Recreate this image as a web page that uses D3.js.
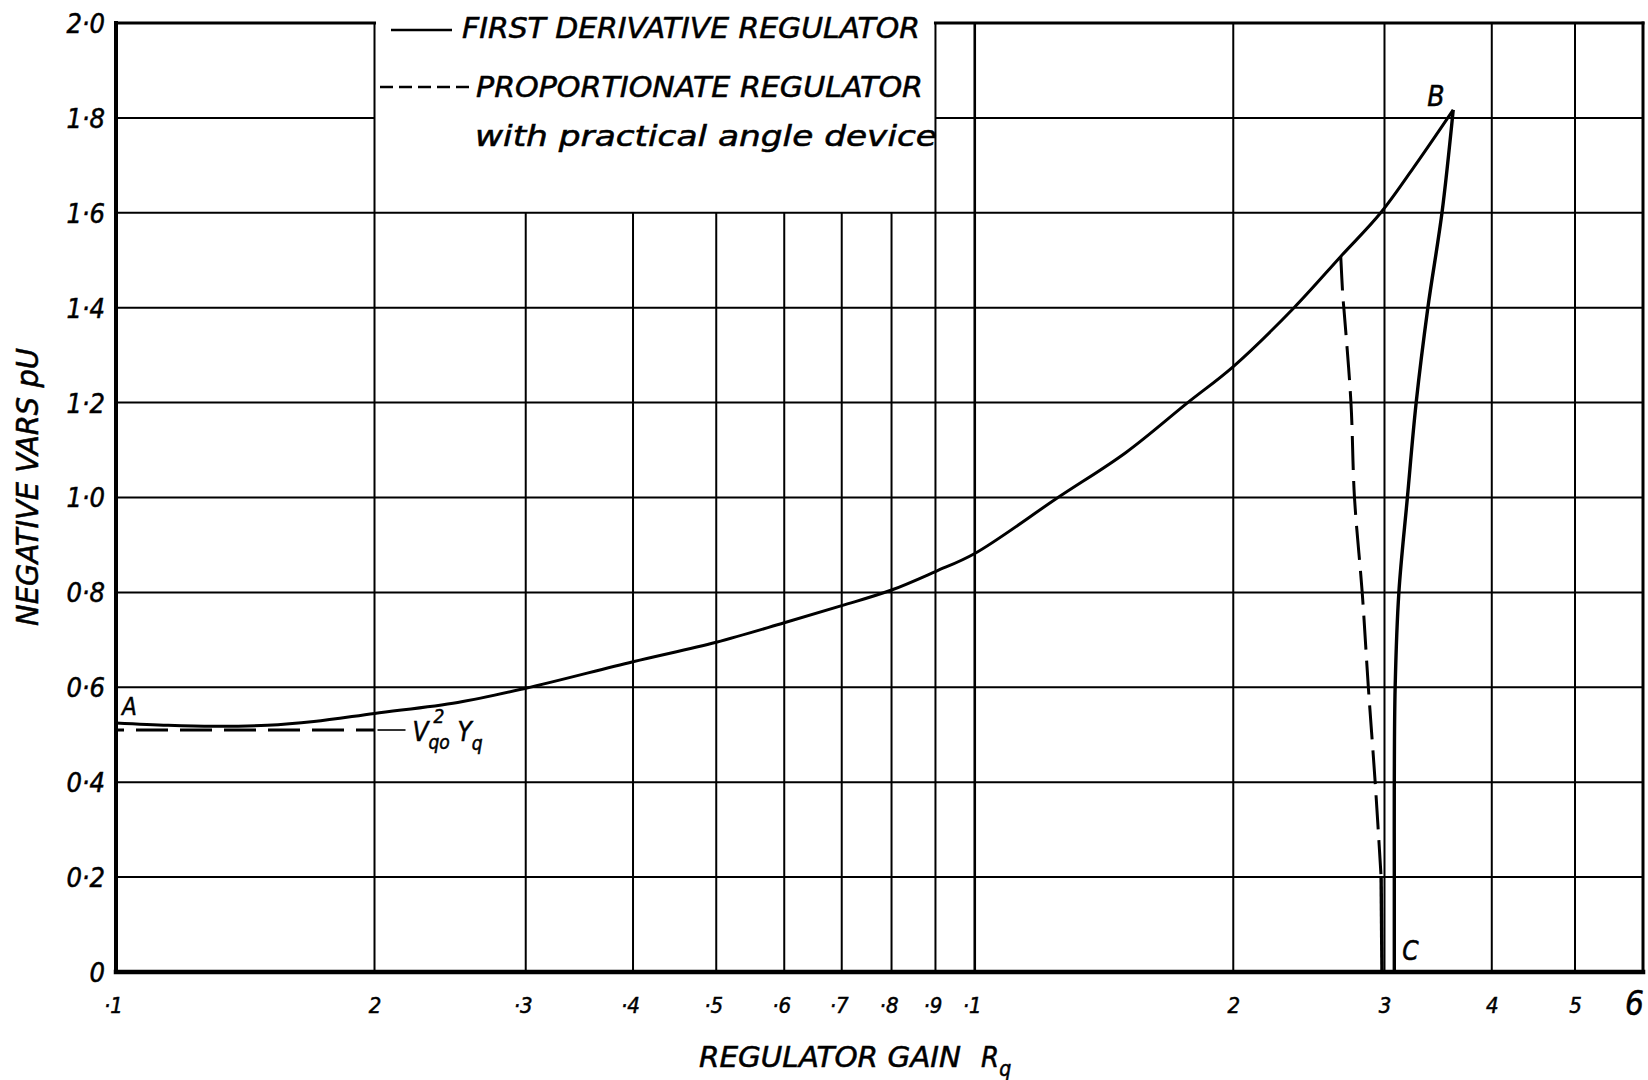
<!DOCTYPE html>
<html>
<head>
<meta charset="utf-8">
<script src="https://cdn.jsdelivr.net/npm/d3@7"></script>
<style>
  body { margin: 0; background: #fff; }
  text { font-family: 'DejaVu Sans Condensed', 'DejaVu Sans', sans-serif; font-style: italic; fill: #000; stroke: #000; stroke-width: 0.5; }
</style>
</head>
<body>
<div id="chart"></div>
<script>
'use strict';

// log paper ticks, labelled the way the sheet labels them
const xTicks = [0.1, 0.2, 0.3, 0.4, 0.5, 0.6, 0.7, 0.8, 0.9, 1, 2, 3, 4, 5, 6];
const xTickLabels = ['·1', '2', '·3', '·4', '·5', '·6', '·7', '·8', '·9', '·1', '2', '3', '4', '5', '6'];
const yTicks = [0, 0.2, 0.4, 0.6, 0.8, 1.0, 1.2, 1.4, 1.6, 1.8, 2.0];
const yTickLabels = ['0', '0·2', '0·4', '0·6', '0·8', '1·0', '1·2', '1·4', '1·6', '1·8', '2·0'];

// first derivative regulator, A -> B then B -> C
const firstDerivRise = [
  [0.1, 0.525], [0.115, 0.52], [0.13, 0.518], [0.15, 0.52], [0.17, 0.528], [0.2, 0.545],
  [0.25, 0.568], [0.3, 0.598], [0.4, 0.654], [0.5, 0.695], [0.6, 0.736], [0.7, 0.772],
  [0.8, 0.805], [0.9, 0.844], [1.0, 0.882], [1.25, 1.0], [1.5, 1.095], [1.77, 1.2],
  [2.0, 1.276], [2.354, 1.4], [2.668, 1.508], [2.97, 1.6], [3.28, 1.708], [3.607, 1.817]
];
const firstDerivFall = [
  [3.607, 1.817], [3.5, 1.6], [3.37, 1.4], [3.266, 1.2], [3.19, 1.0], [3.118, 0.8],
  [3.087, 0.6], [3.08, 0.4], [3.08, 0.2], [3.08, 0]
];

// proportionate regulator
const propFlat = [[0.1, 0.51], [0.2, 0.51]];
const propDrop = [
  [2.668, 1.508], [2.683, 1.424], [2.69, 1.4], [2.742, 1.2], [2.768, 1.0], [2.826, 0.8],
  [2.873, 0.6], [2.926, 0.4], [2.973, 0.2]
];
const propTail = [[2.973, 0.2], [2.98, 0]];

const legendLabels = ['FIRST DERIVATIVE REGULATOR', 'PROPORTIONATE REGULATOR', 'with practical angle device'];

const W = 1648, H = 1080;
const pad = {top: 23, right: 5, bottom: 108, left: 116};

const svg = d3.select('#chart').append('svg')
  .attr('width', W).attr('height', H)
  .style('background', '#fff');

const x = d3.scaleLog().domain([0.1, 6]).range([pad.left, W - pad.right]);
const y = d3.scaleLinear().domain([0, 2]).range([H - pad.bottom, pad.top]);

const grid = svg.append('g').attr('stroke', '#000').attr('fill', 'none');

// vertical rulings; the ones behind the legend stop at 1.6
xTicks.filter(v => v > 0.1 && v < 6).forEach(v => {
  const top = (v >= 0.3 && v <= 0.8) ? y(1.6) : y(2);
  grid.append('line')
    .attr('x1', x(v)).attr('x2', x(v))
    .attr('y1', y(0)).attr('y2', top)
    .attr('stroke-width', v === 1 ? 2.6 : 2);
});

// horizontal rulings; 1.8 is broken by the legend
yTicks.filter(v => v > 0 && v < 2).forEach(v => {
  const segs = v > 1.7 ? [[0.1, 0.2], [0.9, 6]] : [[0.1, 6]];
  segs.forEach(s => {
    grid.append('line')
      .attr('x1', x(s[0])).attr('x2', x(s[1]))
      .attr('y1', y(v)).attr('y2', y(v))
      .attr('stroke-width', 2);
  });
});

// frame
const frame = svg.append('g').attr('stroke', '#000').attr('fill', 'none').attr('stroke-linecap', 'square');
frame.append('line').attr('x1', x(0.1)).attr('x2', x(0.1)).attr('y1', y(0)).attr('y2', y(2)).attr('stroke-width', 4);
frame.append('line').attr('x1', x(0.1)).attr('x2', x(6)).attr('y1', y(0)).attr('y2', y(0)).attr('stroke-width', 4.5);
frame.append('line').attr('x1', x(6)).attr('x2', x(6)).attr('y1', y(0)).attr('y2', y(2)).attr('stroke-width', 3);
frame.append('line').attr('x1', x(0.1)).attr('x2', x(0.2)).attr('y1', y(2)).attr('y2', y(2)).attr('stroke-width', 3);
frame.append('line').attr('x1', x(0.9)).attr('x2', x(6)).attr('y1', y(2)).attr('y2', y(2)).attr('stroke-width', 3);

// axes: only the labels are kept, rulings are drawn above
const xAxis = svg.append('g')
  .attr('transform', `translate(0, ${y(0) + 22})`)
  .call(d3.axisBottom(x).tickValues(xTicks).tickSize(0)
    .tickFormat((d, i) => xTickLabels[i]));
xAxis.select('.domain').remove();
xAxis.selectAll('text')
  .attr('font-size', (d, i) => i === xTicks.length - 1 ? 33 : 22)
  .attr('dx', (d, i) => {
    if (i === xTicks.length - 1) return -9;
    return xTickLabels[i][0] === '·' ? -3 : 0;
  })
  .attr('dy', (d, i) => i === xTicks.length - 1 ? '0.55em' : '0.71em')
  .style('font-family', "'DejaVu Sans Condensed', 'DejaVu Sans', sans-serif");

const yAxis = svg.append('g')
  .attr('transform', `translate(${x(0.1) - 8}, 0)`)
  .call(d3.axisLeft(y).tickValues(yTicks).tickSize(0)
    .tickFormat((d, i) => yTickLabels[i]));
yAxis.select('.domain').remove();
yAxis.selectAll('text')
  .attr('font-size', 27)
  .attr('dy', '0.35em')
  .style('font-family', "'DejaVu Sans Condensed', 'DejaVu Sans', sans-serif");

// curves
const line = d3.line().x(d => x(d[0])).y(d => y(d[1])).curve(d3.curveCatmullRom.alpha(0.5));
const straight = d3.line().x(d => x(d[0])).y(d => y(d[1]));

const curves = svg.append('g').attr('fill', 'none').attr('stroke', '#000').attr('stroke-linejoin', 'round');
curves.append('path').attr('d', line(firstDerivRise)).attr('stroke-width', 3);
curves.append('path').attr('d', line(firstDerivFall)).attr('stroke-width', 3.4);
curves.append('path').attr('d', straight(propFlat)).attr('stroke-width', 3.2)
  .attr('stroke-dasharray', '32,12').attr('stroke-dashoffset', -20);
curves.append('path').attr('d', line(propDrop)).attr('stroke-width', 3)
  .attr('stroke-dasharray', '34,11');
curves.append('path').attr('d', straight(propTail)).attr('stroke-width', 3.4);

// V_qo^2 Y_q marker
curves.append('line')
  .attr('x1', x(0.2) + 3).attr('x2', x(0.2) + 31)
  .attr('y1', y(0.51)).attr('y2', y(0.51))
  .attr('stroke-width', 1.6);
const vx = x(0.2) + 38, vy = y(0.51) + 11;
const vq = svg.append('text').attr('x', vx).attr('y', vy).attr('font-size', 26);
vq.append('tspan').text('V');
vq.append('tspan').attr('font-size', 19).attr('dy', 8).text('qo');
svg.append('text').attr('x', vx + 21).attr('y', vy - 18).attr('font-size', 19).text('2');
const yq = svg.append('text').attr('x', vx + 45).attr('y', vy).attr('font-size', 26);
yq.append('tspan').text('Y');
yq.append('tspan').attr('font-size', 19).attr('dy', 9).text('q');

// point letters
svg.append('text').attr('x', x(0.1) + 6).attr('y', y(0.525) - 8).attr('font-size', 24).text('A');
svg.append('text').attr('x', x(3.607) - 26).attr('y', y(1.817) - 4).attr('font-size', 28).text('B');
svg.append('text').attr('x', x(3.08) + 8).attr('y', y(0) - 12).attr('font-size', 26).text('C');

// legend
const legend = svg.append('g');
legend.append('line').attr('x1', 391).attr('x2', 452).attr('y1', 30).attr('y2', 30)
  .attr('stroke', '#000').attr('stroke-width', 2.5);
legend.append('line').attr('x1', 380).attr('x2', 473).attr('y1', 87).attr('y2', 87)
  .attr('stroke', '#000').attr('stroke-width', 2.5).attr('stroke-dasharray', '13,6');
const legendPos = [[462, 38, 458], [476, 97, 447], [475, 146, 462]];
legendLabels.forEach((t, i) => {
  legend.append('text')
    .attr('x', legendPos[i][0]).attr('y', legendPos[i][1])
    .attr('font-size', i === 2 ? 28 : 29)
    .attr('textLength', legendPos[i][2])
    .attr('lengthAdjust', 'spacingAndGlyphs')
    .text(t);
});

// axis titles
svg.append('text').attr('x', 699).attr('y', 1067).attr('font-size', 29)
  .attr('textLength', 262).attr('lengthAdjust', 'spacingAndGlyphs')
  .text('REGULATOR GAIN');
const xt = svg.append('text').attr('x', 981).attr('y', 1067).attr('font-size', 29);
xt.append('tspan').text('R');
xt.append('tspan').attr('font-size', 21).attr('dy', 9).text('q');

svg.append('text')
  .attr('transform', 'translate(38, 487) rotate(-90)')
  .attr('text-anchor', 'middle')
  .attr('font-size', 30)
  .attr('textLength', 278)
  .attr('lengthAdjust', 'spacingAndGlyphs')
  .text('NEGATIVE VARS pU');
</script>
</body>
</html>
